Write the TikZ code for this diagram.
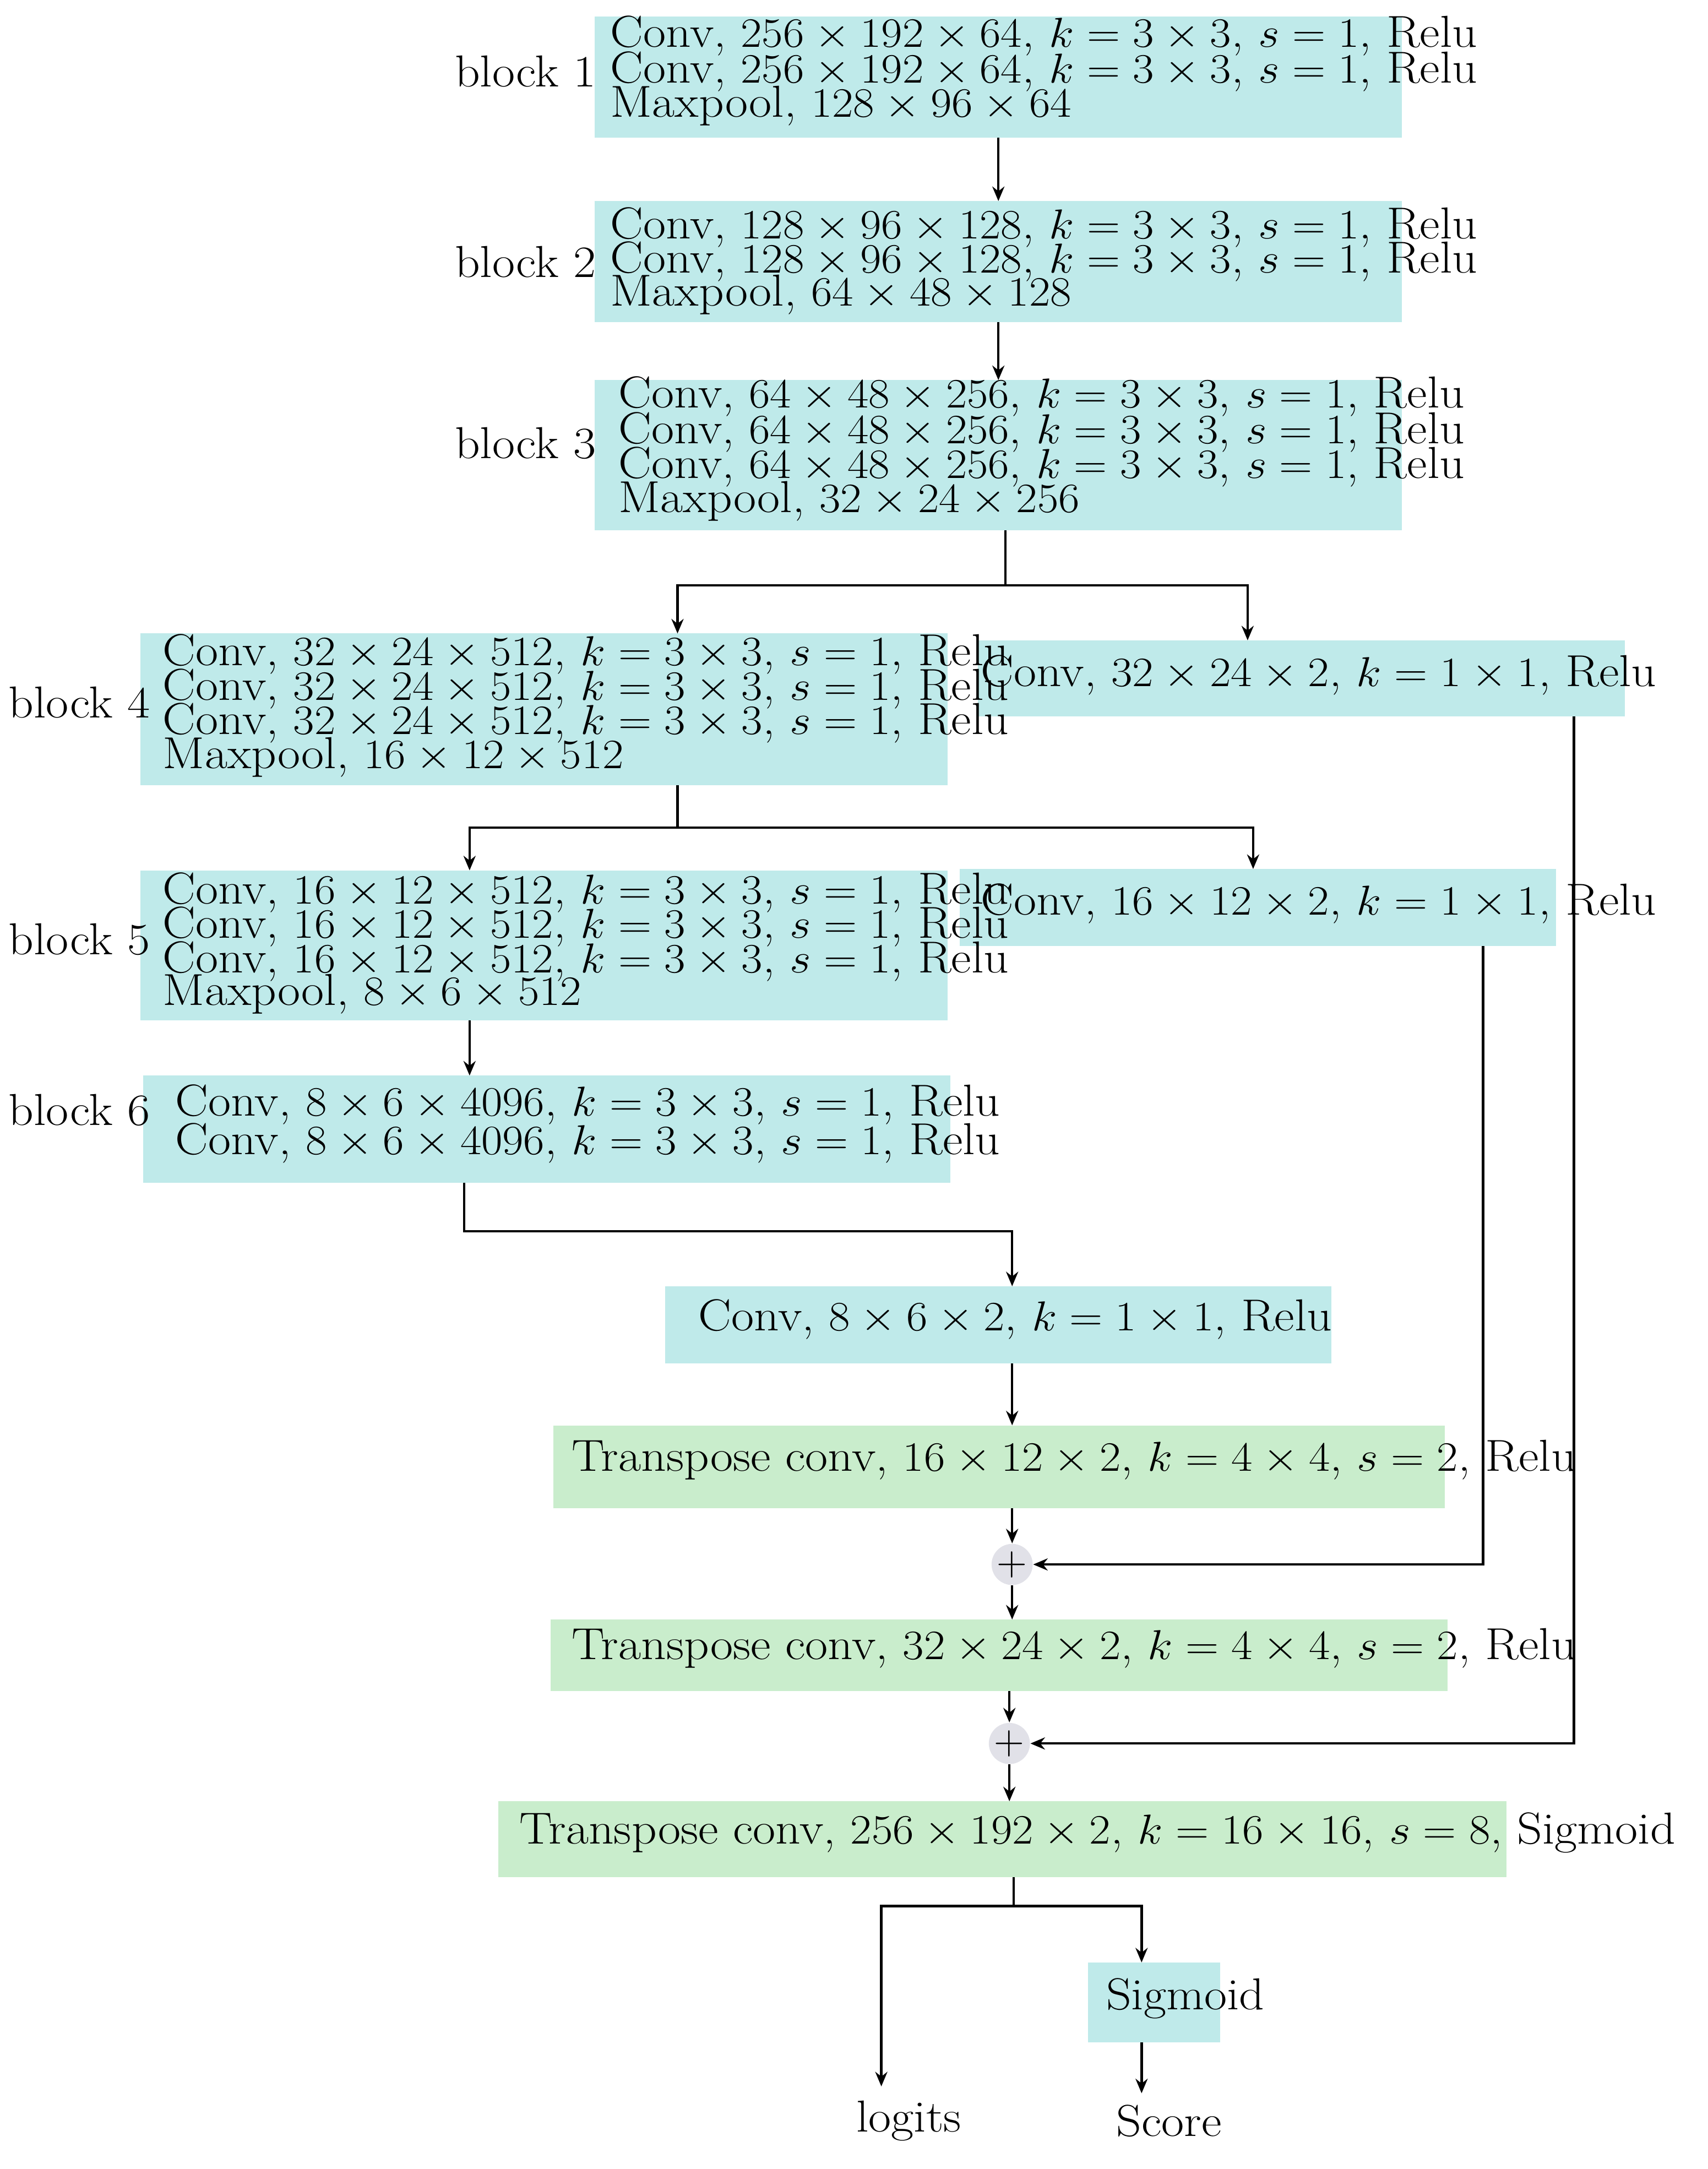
\documentclass[tikz,border=0pt]{standalone}
\usetikzlibrary{arrows.meta}
\definecolor{cbox}{HTML}{BFEAEA}
\definecolor{gbox}{HTML}{C9EDCC}
\definecolor{pbox}{HTML}{E1E1E8}
\newcommand{\Wd}[1]{\scalebox{1.1}[1]{#1}}
\begin{document}
\begin{tikzpicture}[x=0.02cm,y=-0.02cm,
  cyanbox/.style={fill=cbox,draw=none},
  greenbox/.style={fill=gbox,draw=none},
  txt/.style={anchor=west,inner sep=0pt,font=\fontsize{18.5}{15}\selectfont},
  lab/.style={anchor=west,inner sep=0pt,font=\fontsize{18.5}{15}\selectfont},
  conn/.style={line width=1pt,-{Stealth[length=6pt,width=5pt]}},
  plain/.style={line width=1pt}]
\useasboundingbox (0,0) rectangle (1240,1575);
% boxes
\fill[cyanbox] (432,12) rectangle (1018,100);
\fill[cyanbox] (432,146) rectangle (1018,234);
\fill[cyanbox] (432,276) rectangle (1018,385);
\fill[cyanbox] (102,460) rectangle (688,570);
\fill[cyanbox] (710,465) rectangle (1180,520);
\fill[cyanbox] (102,632) rectangle (688,741);
\fill[cyanbox] (697,631) rectangle (1130,687);
\fill[cyanbox] (104,781) rectangle (690,859);
\fill[cyanbox] (483,934) rectangle (967,990);
\fill[greenbox] (402,1035) rectangle (1049,1095);
\fill[greenbox] (400,1176) rectangle (1051,1228);
\fill[greenbox] (362,1308) rectangle (1094,1363);
\fill[cyanbox] (790,1425) rectangle (886,1483);
% coordinates
\coordinate (b1s) at (725,100); \coordinate (b2n) at (725,146);
\coordinate (b2s) at (725,234); \coordinate (b3n) at (725,276);
\coordinate (b3s) at (730,385); \coordinate (b4n) at (492,460); \coordinate (b4rn) at (906,465);
\coordinate (b4s) at (492,570); \coordinate (b5n) at (341,632); \coordinate (b5rn) at (910,631);
\coordinate (b5s) at (341,741); \coordinate (b6n) at (341,781);
\coordinate (b6s) at (337,859); \coordinate (c8n) at (735,934);
\coordinate (c8s) at (735,990); \coordinate (t1n) at (735,1035);
\coordinate (t1s) at (735,1095); \coordinate (t2n) at (735,1176);
\coordinate (t2s) at (733,1228); \coordinate (t3n) at (733,1308);
\coordinate (t3s) at (736,1363); \coordinate (sgn) at (829,1425);
\coordinate (sgs) at (829,1483);
\coordinate (b5rs) at (1077,687); \coordinate (b4rs) at (1143,520);
\coordinate (lg) at (640,1515); \coordinate (sc) at (829,1520);
% plus nodes
\node[circle,fill=pbox,minimum size=17pt,inner sep=0pt,font=\fontsize{18.5}{15}\selectfont] (p1) at (735,1136) {$+$};
\node[circle,fill=pbox,minimum size=17pt,inner sep=0pt,font=\fontsize{18.5}{15}\selectfont] (p2) at (733,1266) {$+$};
% texts
\node[lab] (l1) at (330,52) {\Wd{block 1}};
\node[txt] (a1) at (443,26) {\Wd{Conv, $256\times192\times64$, $k=3\times3$, $s=1$, Relu}};
\node[txt] (a2) at (443,52) {\Wd{Conv, $256\times192\times64$, $k=3\times3$, $s=1$, Relu}};
\node[txt] (a3) at (443,77) {\Wd{Maxpool, $128\times96\times64$}};
\node[lab] (l2) at (330,190) {\Wd{block 2}};
\node[txt] (c1) at (443,165) {\Wd{Conv, $128\times96\times128$, $k=3\times3$, $s=1$, Relu}};
\node[txt] (c2) at (443,190) {\Wd{Conv, $128\times96\times128$, $k=3\times3$, $s=1$, Relu}};
\node[txt] (c3) at (443,214) {\Wd{Maxpool, $64\times48\times128$}};
\node[lab] (l3) at (330,322) {\Wd{block 3}};
\node[txt] (d1) at (449,288) {\Wd{Conv, $64\times48\times256$, $k=3\times3$, $s=1$, Relu}};
\node[txt] (d2) at (449,314) {\Wd{Conv, $64\times48\times256$, $k=3\times3$, $s=1$, Relu}};
\node[txt] (d3) at (449,339) {\Wd{Conv, $64\times48\times256$, $k=3\times3$, $s=1$, Relu}};
\node[txt] (d4) at (449,364) {\Wd{Maxpool, $32\times24\times256$}};
\node[lab] (l4) at (6,510) {\Wd{block 4}};
\node[txt] (e1) at (118,475) {\Wd{Conv, $32\times24\times512$, $k=3\times3$, $s=1$, Relu}};
\node[txt] (e2) at (118,500) {\Wd{Conv, $32\times24\times512$, $k=3\times3$, $s=1$, Relu}};
\node[txt] (e3) at (118,525) {\Wd{Conv, $32\times24\times512$, $k=3\times3$, $s=1$, Relu}};
\node[txt] (e4) at (118,550) {\Wd{Maxpool, $16\times12\times512$}};
\node[txt] (er) at (712,490) {\Wd{Conv, $32\times24\times2$, $k=1\times1$, Relu}};
\node[lab] (l5) at (6,682) {\Wd{block 5}};
\node[txt] (f1) at (118,648) {\Wd{Conv, $16\times12\times512$, $k=3\times3$, $s=1$, Relu}};
\node[txt] (f2) at (118,673) {\Wd{Conv, $16\times12\times512$, $k=3\times3$, $s=1$, Relu}};
\node[txt] (f3) at (118,698) {\Wd{Conv, $16\times12\times512$, $k=3\times3$, $s=1$, Relu}};
\node[txt] (f4) at (118,722) {\Wd{Maxpool, $8\times6\times512$}};
\node[txt] (fr) at (712,656) {\Wd{Conv, $16\times12\times2$, $k=1\times1$, Relu}};
\node[lab] (l6) at (6,806) {\Wd{block 6}};
\node[txt] (g1) at (127,802) {\Wd{Conv, $8\times6\times4096$, $k=3\times3$, $s=1$, Relu}};
\node[txt] (g2) at (127,830) {\Wd{Conv, $8\times6\times4096$, $k=3\times3$, $s=1$, Relu}};
\node[txt] (h1) at (507,958) {\Wd{Conv, $8\times6\times2$, $k=1\times1$, Relu}};
\node[txt] (i1) at (415,1060) {\Wd{Transpose conv, $16\times12\times2$, $k=4\times4$, $s=2$, Relu}};
\node[txt] (i2) at (415,1197) {\Wd{Transpose conv, $32\times24\times2$, $k=4\times4$, $s=2$, Relu}};
\node[txt] (i3) at (377,1331) {\Wd{Transpose conv, $256\times192\times2$, $k=16\times16$, $s=8$, Sigmoid}};
\node[txt] (sg) at (803,1451) {\Wd{Sigmoid}};
\node[txt,anchor=center] (lo) at (660,1540) {\Wd{logits}};
\node[txt,anchor=center] (so) at (849,1540) {\Wd{Score}};
% connectors
\draw[conn] (b1s) -- (b2n);
\draw[conn] (b2s) -- (b3n);
\draw[conn] (b3s) -- (730,425) -| (b4n);
\draw[conn] (730,425) -| (b4rn);
\draw[conn] (b4s) -- (492,601) -| (b5n);
\draw[conn] (492,601) -| (b5rn);
\draw[conn] (b5s) -- (b6n);
\draw[conn] (b6s) -- (337,894) -| (c8n);
\draw[conn] (c8s) -- (t1n);
\draw[conn] (t1s) -- (p1);
\draw[conn] (b5rs) |- (p1);
\draw[conn] (p1) -- (t2n);
\draw[conn] (t2s) -- (p2);
\draw[conn] (b4rs) |- (p2);
\draw[conn] (p2) -- (t3n);
\draw[conn] (t3s) -- (736,1384) -| (lg);
\draw[conn] (736,1384) -| (sgn);
\draw[conn] (sgs) -- (sc);
\end{tikzpicture}
\end{document}
